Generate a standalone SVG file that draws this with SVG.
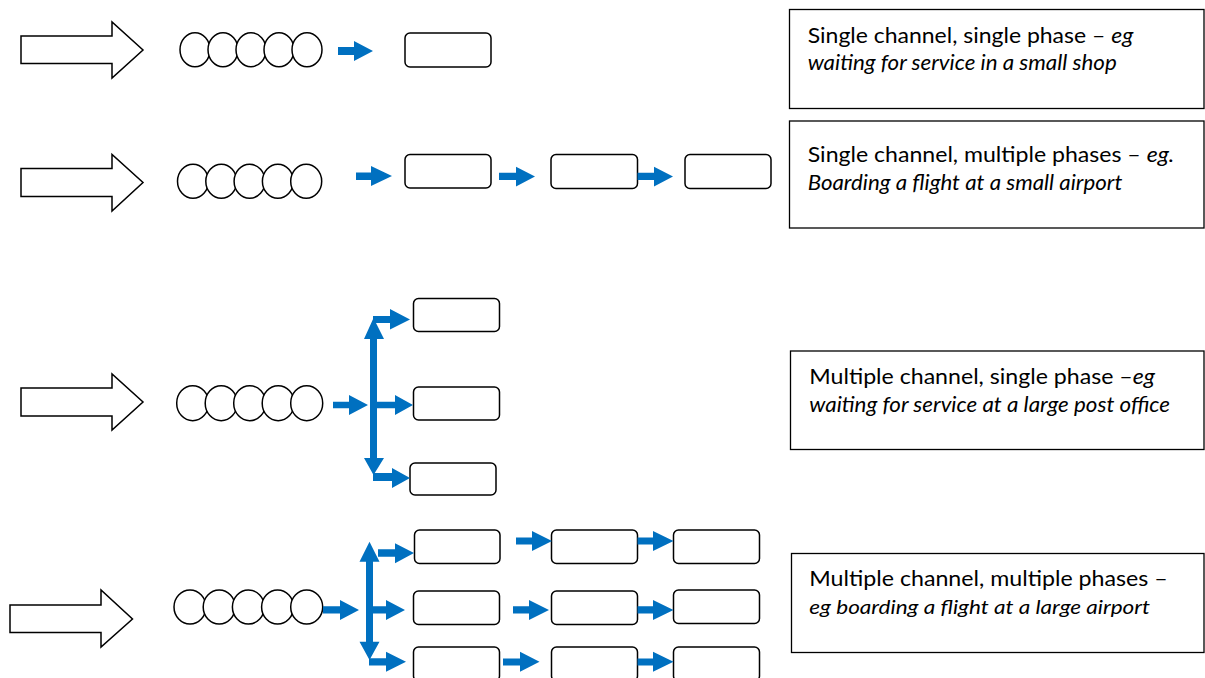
<svg xmlns="http://www.w3.org/2000/svg" width="1205" height="678" viewBox="0 0 1205 678">
<style>
.big{fill:#fff;stroke:#000;stroke-width:1.5;stroke-linejoin:miter}
.q{fill:#fff;stroke:#000;stroke-width:1.5}
.box{fill:#fff;stroke:#000;stroke-width:1.5}
.tb{fill:#fff;stroke:#000;stroke-width:1.3}
.bl{fill:#0070C0;stroke:none}
.t{font-family:Lato,"Open Sans","Liberation Sans",sans-serif;font-size:21px;fill:#000}
.i{font-style:italic}
</style>
<rect width="1205" height="678" fill="#fff"/>

<!-- Row 1 -->
<g id="input1"><polygon class="big" points="21,36 112,36 112,22 143,50 112,78 112,63.5 21,63.5"/></g>
<g id="queue1">
<ellipse class="q" cx="195" cy="49.7" rx="15" ry="17"/><ellipse class="q" cx="223" cy="49.7" rx="15" ry="17"/><ellipse class="q" cx="251" cy="49.7" rx="15" ry="17"/><ellipse class="q" cx="279" cy="49.7" rx="15" ry="17"/><ellipse class="q" cx="307" cy="49.7" rx="15" ry="17"/>
</g>
<g id="server1"><rect class="box" x="405" y="33" width="86" height="34" rx="5"/></g>

<!-- Row 2 -->
<g id="input2"><polygon class="big" points="21,168.5 112,168.5 112,154.5 143,182.5 112,211 112,196.5 21,196.5"/></g>
<g id="queue2">
<ellipse class="q" cx="193" cy="181.3" rx="15.5" ry="17"/><ellipse class="q" cx="221.3" cy="181.3" rx="15.5" ry="17"/><ellipse class="q" cx="249.6" cy="181.3" rx="15.5" ry="17"/><ellipse class="q" cx="277.9" cy="181.3" rx="15.5" ry="17"/><ellipse class="q" cx="306.2" cy="181.3" rx="15.5" ry="17"/>
</g>
<g id="server2a"><rect class="box" x="405" y="154.5" width="86" height="33.5" rx="5"/></g>
<g id="server2b"><rect class="box" x="551" y="154.5" width="86.5" height="34" rx="5"/></g>
<g id="server2c"><rect class="box" x="685" y="154.5" width="86" height="34" rx="5"/></g>

<!-- Row 3 -->
<g id="input3"><polygon class="big" points="21,388 112,388 112,374 143,402 112,430 112,416 21,416"/></g>
<g id="queue3">
<ellipse class="q" cx="192.7" cy="403.2" rx="16" ry="17.5"/><ellipse class="q" cx="221.2" cy="403.2" rx="16" ry="17.5"/><ellipse class="q" cx="249.7" cy="403.2" rx="16" ry="17.5"/><ellipse class="q" cx="278.2" cy="403.2" rx="16" ry="17.5"/><ellipse class="q" cx="306.7" cy="403.2" rx="16" ry="17.5"/>
</g>
<g id="server3a"><rect class="box" x="413.5" y="298.5" width="86" height="33" rx="5"/></g>
<g id="server3b"><rect class="box" x="413.5" y="387" width="86" height="33" rx="5"/></g>
<g id="server3c"><rect class="box" x="410" y="463" width="86" height="32" rx="5"/></g>

<!-- Row 4 -->
<g id="input4"><polygon class="big" points="10,605 101,605 101,590 132.5,619 101,647 101,632.5 10,632.5"/></g>
<g id="queue4">
<ellipse class="q" cx="190" cy="607" rx="16" ry="17"/><ellipse class="q" cx="219.2" cy="607" rx="16" ry="17"/><ellipse class="q" cx="248.4" cy="607" rx="16" ry="17"/><ellipse class="q" cx="277.6" cy="607" rx="16" ry="17"/><ellipse class="q" cx="306.7" cy="607" rx="16" ry="17"/>
</g>
<g id="server4a1"><rect class="box" x="414.5" y="530" width="85.5" height="33.5" rx="5"/></g>
<g id="server4a2"><rect class="box" x="551.5" y="530" width="86" height="33.5" rx="5"/></g>
<g id="server4a3"><rect class="box" x="673.5" y="530" width="86" height="33.5" rx="5"/></g>
<g id="server4b1"><rect class="box" x="413.5" y="591" width="86" height="33.5" rx="5"/></g>
<g id="server4b2"><rect class="box" x="551.5" y="591" width="86" height="33.5" rx="5"/></g>
<g id="server4b3"><rect class="box" x="673.5" y="590" width="86" height="33.5" rx="5"/></g>
<g id="server4c1"><rect class="box" x="413.5" y="647" width="86" height="34" rx="5"/></g>
<g id="server4c2"><rect class="box" x="551.5" y="647" width="86" height="34" rx="5"/></g>
<g id="server4c3"><rect class="box" x="673.5" y="647" width="86" height="34" rx="5"/></g>

<!-- Connectors -->
<g id="connectors">
<!-- row 1 -->
<path class="bl" d="M338,47 H354 V41 L373,51 L354,61 V55 H338 Z"/>
<!-- row 2 -->
<path class="bl" d="M356,172.5 H371 V166 L392,176 L371,186 V180 H356 Z"/>
<path class="bl" d="M499,172.7 H516 V166.7 L535,176.5 L516,186.5 V180 H499 Z"/>
<path class="bl" d="M637.5,172.7 H654 V166.7 L673,176.5 L654,186.5 V180 H637.5 Z"/>
<!-- row 3 -->
<path class="bl" d="M333,401.7 H349 V395 L368,405 L349,415 V408.3 H333 Z"/>
<path class="bl" d="M370,339 H364 L373.5,318 L384,339 H377 V458 H384 L373.5,475 L364,458 H370 Z"/>
<path class="bl" d="M373,316 H390 V309 L410,319.5 L390,329.5 V323 H373 Z"/>
<path class="bl" d="M377,401.7 H395 V395 L413,405 L395,415 V408.3 H377 Z"/>
<path class="bl" d="M373,473 H392 V468 L410,478 L392,488 V481 H373 Z"/>
<!-- row 4 -->
<path class="bl" d="M323,606.3 H340 V600 L359,610 L340,620 V613.5 H323 Z"/>
<path class="bl" d="M366,561.7 H359.5 L369.5,541.7 L379.5,561.7 H373 V641.7 H379.5 L369.5,660 L359.5,641.7 H366 Z"/>
<path class="bl" d="M378,549.3 H395 V543.3 L414,553 L395,563.3 V556.7 H378 Z"/>
<path class="bl" d="M373,606.3 H386 V600 L405,610 L386,620 V613.5 H373 Z"/>
<path class="bl" d="M369,658.3 H386 V651.7 L406,661.8 L386,671.7 V665.5 H369 Z"/>
<path class="bl" d="M516,537.5 H532 V531 L552,541 L532,551 V544.5 H516 Z"/>
<path class="bl" d="M637.5,537.5 H653 V531 L673.5,541 L653,551 V544.5 H637.5 Z"/>
<path class="bl" d="M513,606.3 H529 V600 L549,610 L529,620 V613.5 H513 Z"/>
<path class="bl" d="M637.5,606.3 H653 V600 L673.5,610 L653,620 V613.5 H637.5 Z"/>
<path class="bl" d="M503,658.5 H520 V651.7 L539.5,661.8 L520,671.7 V665.5 H503 Z"/>
<path class="bl" d="M637.5,658.5 H653 V651.7 L673.5,661.8 L653,671.7 V665.5 H637.5 Z"/>
</g>

<!-- Text boxes -->
<g id="label1">
<rect class="tb" x="789.5" y="9.5" width="414.5" height="99"/>
<text class="t" x="807.7" y="43" textLength="325.6" lengthAdjust="spacingAndGlyphs">Single channel, single phase – <tspan class="i">eg</tspan></text>
<text class="t i" x="807.7" y="70" textLength="309" lengthAdjust="spacingAndGlyphs">waiting for service in a small shop</text>
</g>
<g id="label2">
<rect class="tb" x="789.5" y="121" width="414.5" height="107"/>
<text class="t" x="807.7" y="161.5" textLength="366.6" lengthAdjust="spacingAndGlyphs">Single channel, multiple phases – <tspan class="i">eg.</tspan></text>
<text class="t i" x="807.7" y="190" textLength="314.6" lengthAdjust="spacingAndGlyphs">Boarding a flight at a small airport</text>
</g>
<g id="label3">
<rect class="tb" x="790.5" y="351" width="413.5" height="98.5"/>
<text class="t" x="809.3" y="384" textLength="345.7" lengthAdjust="spacingAndGlyphs">Multiple channel, single phase –<tspan class="i">eg</tspan></text>
<text class="t i" x="809.3" y="411.7" textLength="360.7" lengthAdjust="spacingAndGlyphs">waiting for service at a large post office</text>
</g>
<g id="label4">
<rect class="tb" x="791.5" y="553.5" width="412.5" height="99"/>
<text class="t" x="809.3" y="586" textLength="358.4" lengthAdjust="spacingAndGlyphs">Multiple channel, multiple phases –</text>
<text class="t i" x="809.3" y="614" style="font-size:19.5px" textLength="340.7" lengthAdjust="spacingAndGlyphs">eg boarding a flight at a large airport</text>
</g>
</svg>
